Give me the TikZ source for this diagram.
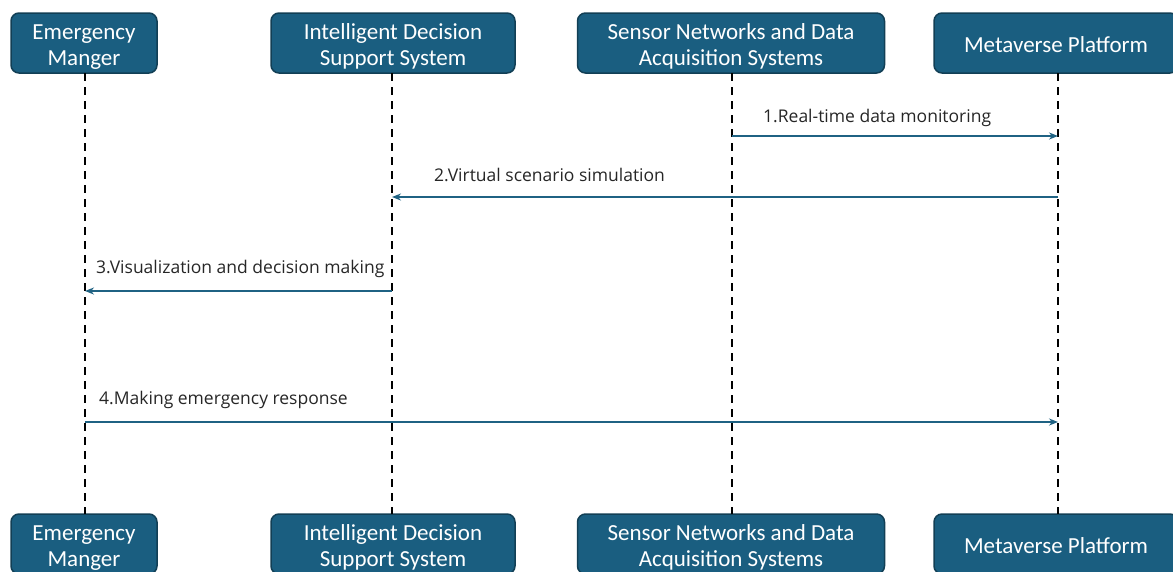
\documentclass[tikz,border=0pt]{standalone}
\usepackage{fontspec}
\setmainfont{Carlito}
\newfontfamily\lblfont{Open Sans}
\usetikzlibrary{arrows.meta}
\definecolor{boxfill}{HTML}{1A5E80}
\definecolor{boxline}{HTML}{123F55}
\definecolor{arrowc}{HTML}{1F6283}
\definecolor{lblc}{HTML}{262626}
\newcommand{\dropA}{\rule{0pt}{22pt}}
\newcommand{\dropB}{\rule{0pt}{20pt}}
\tikzset{
  actor/.style={draw=boxline, line width=1.5pt, fill=boxfill, rounded corners=8pt,
    text=white, font=\fontsize{23}{26}\selectfont, align=center, inner sep=0pt,
    minimum height=60pt},
  lifeline/.style={dashed, dash pattern=on 8pt off 6pt, line width=1.8pt, black},
  msg/.style={draw=arrowc, line width=1.6pt, -{Stealth[length=9pt,width=7pt]}},
  lbl/.style={font=\lblfont\fontsize{17.5}{20}\selectfont, text=lblc, anchor=base west, inner sep=0pt}
}
\begin{document}
\begin{tikzpicture}[x=1pt,y=-1pt]
\useasboundingbox (0,0) rectangle (1173,571);
% top actors
\node[actor, minimum width=146pt] (a1) at (84,43) {\dropA Emergency\\Manger};
\node[actor, minimum width=244pt] (a2) at (393,43) {\dropA Intelligent Decision\\Support System};
\node[actor, minimum width=307pt] (a3) at (731,43) {\dropA Sensor Networks and Data\\Acquisition Systems};
\node[actor, minimum width=244pt] (a4) at (1056,43) {\dropB Metaverse Platform};
% bottom actors
\node[actor, minimum width=146pt] (b1) at (84,544) {\dropA Emergency\\Manger};
\node[actor, minimum width=244pt] (b2) at (393,544) {\dropA Intelligent Decision\\Support System};
\node[actor, minimum width=307pt] (b3) at (731,544) {\dropA Sensor Networks and Data\\Acquisition Systems};
\node[actor, minimum width=244pt] (b4) at (1056,544) {\dropB Metaverse Platform};
% lifeline coordinates
\coordinate (l1t) at (85,73); \coordinate (l1b) at (85,514);
\coordinate (l2t) at (392,73); \coordinate (l2b) at (392,514);
\coordinate (l3t) at (732,73); \coordinate (l3b) at (732,514);
\coordinate (l4t) at (1058,73); \coordinate (l4b) at (1058,514);
\draw[lifeline] (l1t) -- (l1b);
\draw[lifeline] (l2t) -- (l2b);
\draw[lifeline] (l3t) -- (l3b);
\draw[lifeline] (l4t) -- (l4b);
% messages
\coordinate (m1s) at (732,136); \coordinate (m1e) at (1058,136);
\coordinate (m2s) at (1058,197); \coordinate (m2e) at (392,197);
\coordinate (m3s) at (392,291); \coordinate (m3e) at (85,291);
\coordinate (m4s) at (85,422); \coordinate (m4e) at (1058,422);
\draw[msg] (m1s) -- (m1e);
\draw[msg] (m2s) -- (m2e);
\draw[msg] (m3s) -- (m3e);
\draw[msg] (m4s) -- (m4e);
\node[lbl] (t1) at (763,122) {1.Real-time data monitoring};
\node[lbl] (t2) at (434,181) {2.Virtual scenario simulation};
\node[lbl] (t3) at (96,273) {3.Visualization and decision making};
\node[lbl] (t4) at (99,404) {4.Making emergency response};
\end{tikzpicture}
\end{document}
